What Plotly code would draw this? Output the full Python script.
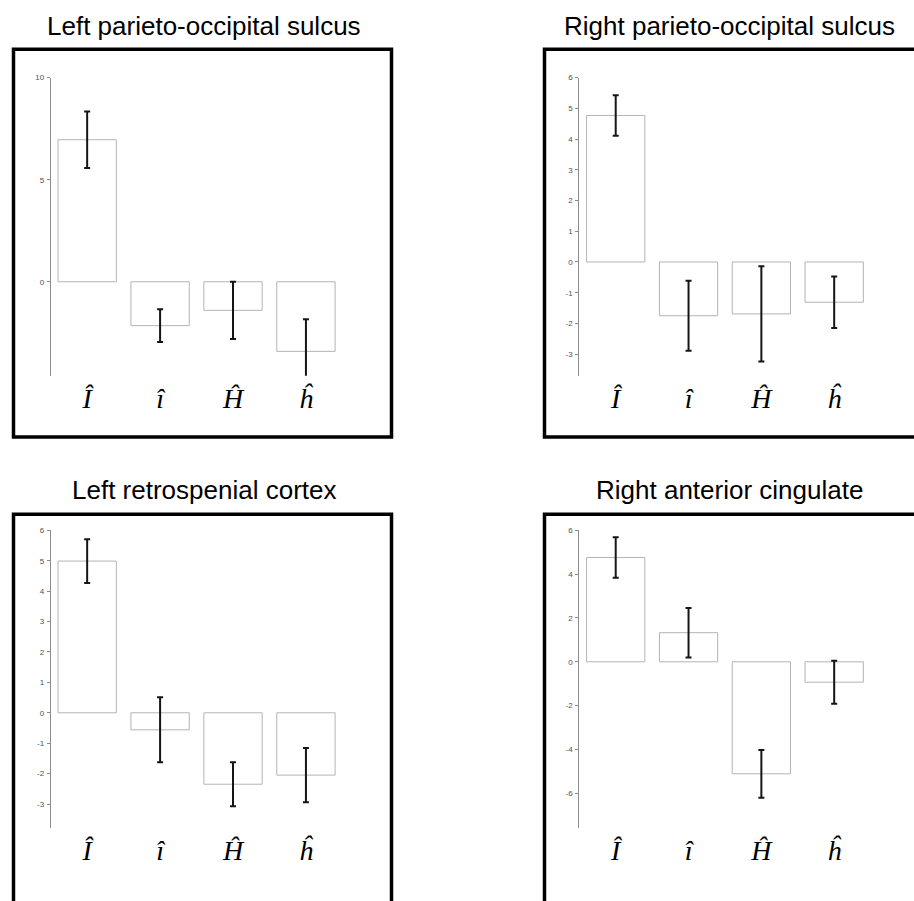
import plotly.graph_objects as go

# Condition labels (estimated parameters)
categories = ["Î", "î", "Ĥ", "ĥ"]

# Region titles
titles = [
    "Left parieto-occipital sulcus",
    "Right parieto-occipital sulcus",
    "Left retrospenial cortex",
    "Right anterior cingulate",
]

# Mean effect and error half-width per region
lpos_mean = [6.96, -2.15, -1.40, -3.41]
lpos_err = [1.38, 0.80, 1.40, 1.57]

rpos_mean = [4.77, -1.75, -1.69, -1.31]
rpos_err = [0.66, 1.14, 1.55, 0.84]

lrsc_mean = [4.99, -0.56, -2.35, -2.05]
lrsc_err = [0.72, 1.07, 0.72, 0.89]

racc_mean = [4.76, 1.33, -5.11, -0.93]
racc_err = [0.92, 1.13, 1.09, 0.98]

# y ranges and tick values per panel
y_ranges = [[-4.6, 10], [-3.7, 6], [-3.8, 6], [-7.6, 6]]
y_ticks = [[0, 5, 10], list(range(-3, 7)), list(range(-3, 7)), [-6, -4, -2, 0, 2, 4, 6]]

W, H = 914, 901


def px_x(v):
    return v / W


def px_y(v):
    return 1 - v / H


# Plot-area placement (pixels): left/right column, top/bottom row
x_doms = [[50.7, 342.4], [579.3, 870.6]]
y_doms = [[74, 373.3], [528.7, 828.0]]
# Frame boxes (pixels, line centres)
frame_x = [[13.5, 391.5], [544.5, 925]]
frame_y = [[45.5, 435], [512.5, 905]]
title_x = [204, 729]
title_y = [22, 488]

series = [(lpos_mean, lpos_err), (rpos_mean, rpos_err),
          (lrsc_mean, lrsc_err), (racc_mean, racc_err)]

fig = go.Figure()
shapes = []
annotations = []

for k, (means, errs) in enumerate(series):
    col, row = k % 2, k // 2
    ax = "" if k == 0 else str(k + 1)
    fig.add_trace(go.Bar(
        x=[0, 1, 2, 3], y=means, width=0.8,
        marker=dict(color="white", line=dict(color="#b4b4b4", width=1)),
        error_y=dict(type="data", array=errs, visible=True,
                     color="#151515", thickness=2, width=3),
        xaxis="x" + ax, yaxis="y" + ax, showlegend=False,
    ))
    xd = [px_x(x_doms[col][0]), px_x(x_doms[col][1])]
    yd = [px_y(y_doms[row][1]), px_y(y_doms[row][0])]
    fig.layout["xaxis" + ax] = dict(
        domain=xd, range=[-0.5, 3.5], anchor="y" + ax,
        tickmode="array", tickvals=[0, 1, 2, 3], ticktext=categories,
        tickfont=dict(family="Liberation Serif", size=28, color="black", style="italic"),
        showline=False, showgrid=False, zeroline=False, ticks="",
        ticklabelstandoff=3,
    )
    fig.layout["yaxis" + ax] = dict(
        domain=yd, range=y_ranges[k], anchor="x" + ax,
        tickmode="array", tickvals=y_ticks[k],
        ticktext=[str(t) for t in y_ticks[k]],
        tickfont=dict(family="Arial", size=8, color="#505050"),
        showline=True, linecolor="#8c8c8c", linewidth=1,
        ticks="outside", ticklen=3, tickcolor="#8c8c8c",
        showgrid=False, zeroline=False, ticklabelstandoff=1,
    )
    fx, fy = frame_x[col], frame_y[row]
    shapes.append(dict(
        type="rect", xref="paper", yref="paper",
        x0=px_x(fx[0]), x1=px_x(fx[1]), y0=px_y(fy[1]), y1=px_y(fy[0]),
        line=dict(color="black", width=3.5), fillcolor="rgba(0,0,0,0)",
    ))
    annotations.append(dict(
        text=titles[k], xref="paper", yref="paper",
        x=px_x(title_x[col]), y=px_y(title_y[row]),
        xanchor="center", yanchor="middle", showarrow=False,
        font=dict(family="Arial", size=26, color="black"),
    ))

fig.update_layout(
    width=W, height=H, margin=dict(l=0, r=0, t=0, b=0),
    paper_bgcolor="white", plot_bgcolor="white",
    shapes=shapes, annotations=annotations, bargap=0.2,
)

fig.write_html("out.html")
